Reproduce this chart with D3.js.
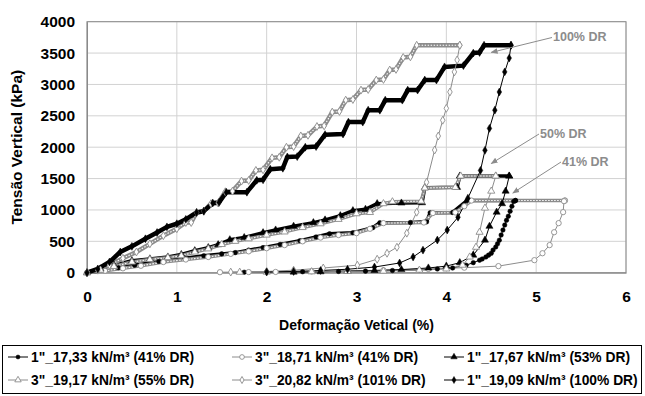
<!DOCTYPE html>
<html>
<head>
<meta charset="utf-8">
<script src="https://cdn.jsdelivr.net/npm/d3@7"></script>
<style>
  body { margin: 0; background: #fff; }
  svg { font-family: Arial, "Liberation Sans", sans-serif; }
</style>
</head>
<body>
<svg id="chart" width="645" height="396"></svg>
<script>
// deformation (%) / vertical stress (kPa) pairs, loading then unloading
const load_1733 = [[0,0],[0.2,40],[0.35,80],[0.53,120],[0.8,180],[1.09,230],[1.3,270],[1.5,300],[1.65,320],[1.8,360],[1.96,400],[2.15,450],[2.37,510],[2.55,570],[2.7,620],[2.96,637],[3.18,717],[3.26,797],[3.6,800],[3.78,810],[3.82,956],[4.07,960],[4.23,1150],[4.77,1150]]
const unload_1733 = [[4.77,1150],[4.75,1135],[4.73,1060],[4.71,980],[4.69,900],[4.67,836],[4.65,760],[4.63,680],[4.61,600],[4.59,518],[4.57,460],[4.55,410],[4.52,360],[4.5,310],[4.47,280],[4.44,250],[4.4,220],[4.37,200],[4.3,160],[4.22,120],[4.07,75],[3.9,60],[3.7,45],[3.4,35],[3.1,25],[2.8,20],[2.4,15],[2.0,10],[1.75,8]]

const load_1871 = [[0,0],[0.2,30],[0.4,70],[0.6,110],[0.85,170],[1.1,210],[1.35,250],[1.6,300],[1.8,340],[2.0,390],[2.2,440],[2.4,500],[2.6,560],[2.8,600],[3.0,630],[3.15,700],[3.3,790],[3.75,800],[3.85,950],[4.1,960],[4.2,1060],[4.28,1150],[5.32,1150]]
const unload_1871 = [[5.32,1150],[5.31,1140],[5.3,965],[5.25,790],[5.2,645],[5.15,440],[5.07,310],[4.98,200],[4.58,105],[4.2,80],[3.8,60],[3.3,40],[2.9,30],[2.5,20],[2.1,12],[1.8,10],[1.48,8]]

const load_1767 = [[0,0],[0.15,60],[0.3,120],[0.5,190],[0.7,220],[0.9,250],[1.05,290],[1.2,350],[1.35,400],[1.46,446],[1.59,525],[1.75,560],[1.96,637],[2.1,680],[2.3,740],[2.52,797],[2.65,840],[2.82,908],[2.96,988],[3.1,1010],[3.23,1100],[3.5,1110],[3.73,1115],[3.76,1355],[4.12,1360],[4.15,1540],[4.7,1540]]
const unload_1767 = [[4.7,1540],[4.66,1300],[4.62,1100],[4.56,965],[4.48,740],[4.43,520],[4.3,280],[4.15,160],[4.0,105],[3.8,75],[3.5,50],[3.2,35],[2.9,25],[2.6,15],[2.3,10]]

const load_1917 = [[0,0],[0.15,40],[0.3,100],[0.5,170],[0.7,210],[0.9,240],[1.05,270],[1.2,330],[1.35,380],[1.5,450],[1.65,500],[1.8,540],[2.0,600],[2.2,650],[2.4,720],[2.6,780],[2.8,850],[3.0,940],[3.15,960],[3.3,1100],[3.4,1130],[3.72,1140],[3.76,1350],[4.1,1360],[4.16,1540],[4.55,1540]]
const unload_1917 = [[4.55,1540],[4.5,1300],[4.43,1030],[4.37,645],[4.33,406],[4.26,250],[4.18,120],[4.0,60],[3.7,40],[3.3,25],[2.9,20],[2.5,15],[2.0,10],[1.7,8]]

const load_2082 = [[0,0],[0.12,40],[0.25,120],[0.4,230],[0.55,330],[0.7,460],[0.85,590],[1.0,700],[1.1,800],[1.16,800],[1.22,960],[1.3,980],[1.38,1100],[1.46,1110],[1.54,1290],[1.62,1300],[1.72,1460],[1.8,1470],[1.88,1630],[1.96,1640],[2.06,1830],[2.14,1840],[2.22,2000],[2.3,2010],[2.38,2180],[2.46,2190],[2.56,2330],[2.64,2340],[2.73,2560],[2.81,2570],[2.88,2750],[2.96,2760],[3.05,2910],[3.13,2920],[3.22,3070],[3.3,3080],[3.37,3230],[3.44,3240],[3.52,3430],[3.6,3440],[3.67,3625],[4.15,3625]]
const unload_2082 = [[4.15,3625],[4.12,3390],[4.09,3200],[4.04,2880],[4.0,2620],[3.96,2430],[3.91,2178],[3.87,1955],[3.78,1442],[3.67,964],[3.56,630],[3.45,406],[3.34,310],[3.23,215],[3.01,120],[2.63,75],[2.3,40],[2.0,20],[1.6,10]]

const load_1909 = [[0,0],[0.12,60],[0.25,170],[0.37,330],[0.5,420],[0.65,540],[0.78,640],[0.89,730],[1.0,780],[1.1,850],[1.22,960],[1.3,980],[1.4,1110],[1.47,1120],[1.55,1283],[1.78,1283],[1.89,1474],[1.96,1480],[2.04,1650],[2.18,1665],[2.23,1845],[2.34,1850],[2.43,2000],[2.55,2010],[2.65,2200],[2.85,2210],[2.91,2400],[3.07,2400],[3.13,2590],[3.26,2590],[3.32,2750],[3.51,2750],[3.57,2910],[3.68,2910],[3.76,3070],[3.89,3070],[3.98,3280],[4.19,3300],[4.3,3500],[4.37,3510],[4.42,3625],[4.72,3625]]
const unload_1909 = [[4.72,3625],[4.7,3420],[4.65,3200],[4.59,2880],[4.54,2590],[4.48,2300],[4.43,1950],[4.38,1630],[4.24,1187],[4.13,884],[4.01,680],[3.9,520],[3.74,360],[3.63,250],[3.48,155],[3.2,90],[2.9,55],[2.6,35],[2.3,20],[2.0,10]]

const seriesNames = ["1\"_17,33 kN/m³ (41% DR)", "3\"_18,71 kN/m³ (41% DR)", "1\"_17,67 kN/m³ (53% DR)",
                     "3\"_19,17 kN/m³ (55% DR)", "3\"_20,82 kN/m³ (101% DR)", "1\"_19,09 kN/m³ (100% DR)"]
const xTicks = [0, 1, 2, 3, 4, 5, 6]
const yTicks = [0, 500, 1000, 1500, 2000, 2500, 3000, 3500, 4000]

// annotation labels: text, arrow tip [deformation, kPa]
const notes = [
  {text: "100% DR", tip: [4.5, 3510]},
  {text: "50% DR", tip: [4.5, 1740]},
  {text: "41% DR", tip: [4.74, 1270]}
]

const gray = "#8c8c8c"
const series = [
  {name: seriesNames[0], load: load_1733, unload: unload_1733, color: "#000", shape: "circle", hollow: false},
  {name: seriesNames[1], load: load_1871, unload: unload_1871, color: gray, shape: "circle", hollow: true},
  {name: seriesNames[2], load: load_1767, unload: unload_1767, color: "#000", shape: "triangle", hollow: false},
  {name: seriesNames[3], load: load_1917, unload: unload_1917, color: gray, shape: "triangle", hollow: true},
  {name: seriesNames[4], load: load_2082, unload: unload_2082, color: gray, shape: "diamond", hollow: true},
  {name: seriesNames[5], load: load_1909, unload: unload_1909, color: "#000", shape: "diamond", hollow: false}
]

var margin = {top: 21.7, right: 19, bottom: 123.3, left: 87},
  width = 645 - margin.left - margin.right,
  height = 396 - margin.top - margin.bottom;

var x = d3.scaleLinear().domain([0, 6]).range([0, width])
var y = d3.scaleLinear().domain([0, 4000]).range([height, 0])

var svg = d3.select("#chart")
var g = svg.append("g").attr("transform", "translate(" + margin.left + "," + margin.top + ")")

// grid
g.append("g").attr("class", "grid")
  .selectAll("line").data(yTicks).enter().append("line")
  .attr("x1", 0).attr("x2", width)
  .attr("y1", d => y(d)).attr("y2", d => y(d))
  .attr("stroke", "#d2d2d2")
g.append("g").attr("class", "grid")
  .selectAll("line").data(xTicks).enter().append("line")
  .attr("y1", 0).attr("y2", height)
  .attr("x1", d => x(d)).attr("x2", d => x(d))
  .attr("stroke", "#d2d2d2")

// frame
g.append("rect").attr("width", width).attr("height", height)
  .attr("fill", "none").attr("stroke", "#8a8a8a")

// axes
g.append("g").attr("class", "yAxis")
  .call(d3.axisLeft(y).tickValues(yTicks).tickFormat(d3.format("d")).tickSize(0).tickPadding(12))
g.append("g").attr("class", "xAxis")
  .attr("transform", "translate(0," + height + ")")
  .call(d3.axisBottom(x).tickValues(xTicks).tickFormat(d3.format("d")).tickSize(0).tickPadding(18))
g.selectAll(".domain").attr("stroke", "#8a8a8a")
g.selectAll(".tick text")
  .attr("font-size", "15.5px")
  .attr("font-weight", "bold")
  .attr("font-family", "Arial, 'Liberation Sans', sans-serif")
  .attr("fill", "#000")

svg.append("text")
  .attr("transform", "translate(22," + (margin.top + height / 2) + ") rotate(-90)")
  .attr("text-anchor", "middle")
  .attr("font-size", "15.5px").attr("font-weight", "bold")
  .text("Tensão Vertical (kPa)")

svg.append("text")
  .attr("x", margin.left + width / 2).attr("y", 330)
  .attr("text-anchor", "middle")
  .attr("font-size", "14px").attr("font-weight", "bold")
  .text("Deformação Vetical (%)")

var line = d3.line().x(d => x(d[0])).y(d => y(d[1]))

var symbolFor = function(shape, size) {
  var type = shape == "circle" ? d3.symbolCircle : shape == "triangle" ? d3.symbolTriangle : d3.symbolDiamond
  return d3.symbol().type(type).size(size)()
}
var sizeFor = s => s.shape == "circle" ? (s.hollow ? 22 : 16) : s.shape == "triangle" ? 22 : 18

var plot = g.append("g").attr("class", "curves")

// loading branches: dense readings drawn as a heavy band
series.forEach(s => {
  plot.append("path").datum(s.load)
    .attr("d", line).attr("fill", "none")
    .attr("stroke", s.color).attr("stroke-width", s.shape == "diamond" ? 4.5 : 3.5)
    .attr("stroke-linejoin", "round")
  if (s.hollow) {
    plot.append("path").datum(s.load)
      .attr("d", line).attr("fill", "none")
      .attr("stroke", "#fff").attr("stroke-width", 1.1)
      .attr("stroke-dasharray", "1.5,1.5")
  }
})

// unloading branches: thin line with markers
series.forEach(s => {
  plot.append("path").datum(s.unload)
    .attr("d", line).attr("fill", "none")
    .attr("stroke", s.color).attr("stroke-width", 1)
})

series.forEach(s => {
  plot.append("g")
    .selectAll("path").data(s.load.concat(s.unload)).enter().append("path")
    .attr("transform", d => "translate(" + x(d[0]) + "," + y(d[1]) + ")")
    .attr("d", symbolFor(s.shape, sizeFor(s)))
    .attr("fill", s.hollow ? "#fff" : "#000")
    .attr("stroke", s.color).attr("stroke-width", s.hollow ? 0.9 : 0.5)
})

// annotations
var textPos = [[553, 36.5], [540, 133], [562, 161]]
svg.append("defs").append("marker")
  .attr("id", "arrow").attr("viewBox", "0 0 10 10")
  .attr("refX", 9).attr("refY", 5)
  .attr("markerWidth", 7).attr("markerHeight", 7)
  .attr("orient", "auto-start-reverse")
  .append("path").attr("d", "M0,1L10,5L0,9z").attr("fill", "#8c8c8c")

notes.forEach((n, i) => {
  var tx = textPos[i][0], ty = textPos[i][1]
  svg.append("line")
    .attr("x1", tx - 1).attr("y1", ty + 1)
    .attr("x2", margin.left + x(n.tip[0])).attr("y2", margin.top + y(n.tip[1]))
    .attr("stroke", "#8c8c8c").attr("stroke-width", 1)
    .attr("marker-end", "url(#arrow)")
  svg.append("text")
    .attr("x", tx).attr("y", ty + 4.5)
    .attr("font-size", "12.5px").attr("font-weight", "bold")
    .attr("fill", "#8c8c8c")
    .text(n.text)
})

// legend
var legend = svg.append("g").attr("class", "legend")
legend.append("rect")
  .attr("x", 2.5).attr("y", 345.5).attr("width", 639).attr("height", 48)
  .attr("fill", "#fff").attr("stroke", "#000")
var legendCols = [8, 232, 444], legendRows = [357, 380]
var items = legend.selectAll("g").data(series).enter().append("g")
  .attr("transform", (d, i) => "translate(" + legendCols[i % 3] + "," + legendRows[Math.floor(i / 3)] + ")")
items.append("line").attr("x1", 0).attr("x2", 20)
  .attr("stroke", d => d.color).attr("stroke-width", 1)
items.append("path")
  .attr("transform", "translate(10,0)")
  .attr("d", d => symbolFor(d.shape, sizeFor(d) * 0.8))
  .attr("fill", d => d.hollow ? "#fff" : "#000")
  .attr("stroke", d => d.color).attr("stroke-width", d => d.hollow ? 0.9 : 0.5)
items.append("text")
  .attr("x", 23).attr("y", 5)
  .attr("font-size", "13.8px").attr("font-weight", "bold")
  .text(d => d.name)
</script>
</body>
</html>
